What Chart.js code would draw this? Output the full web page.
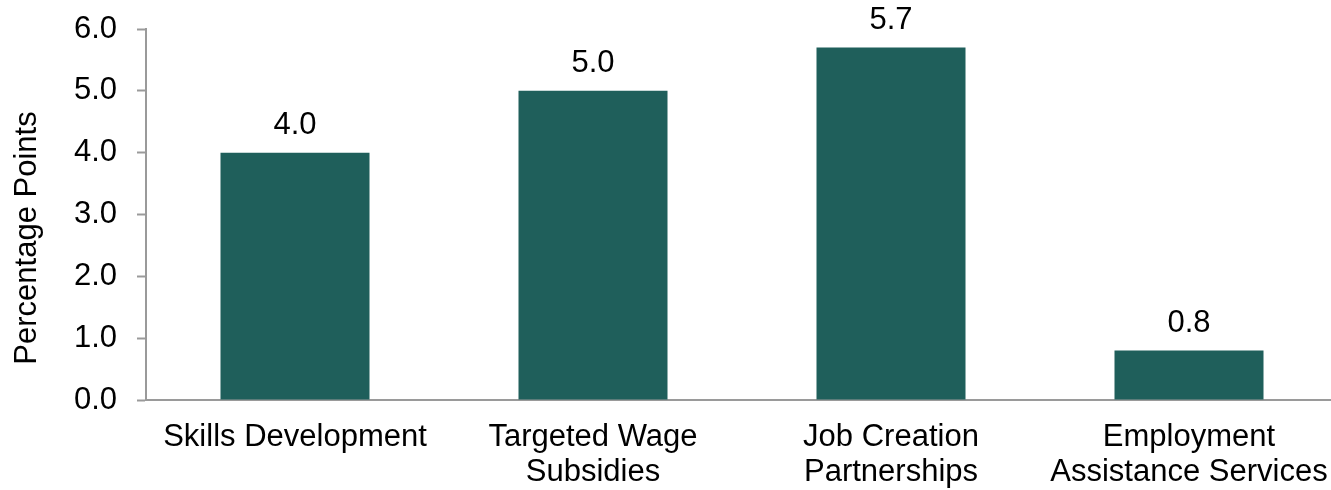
<!DOCTYPE html>
<html>
<head>
<meta charset="utf-8">
<script src="https://cdn.jsdelivr.net/npm/chart.js@4/dist/chart.umd.min.js"></script>
<style>
  html, body { margin: 0; padding: 0; background: #fff; overflow: hidden; }
  #wrap { position: relative; width: 1340px; height: 490px; }
</style>
</head>
<body>
<div id="wrap"><canvas id="c"></canvas></div>
<script>
const categories = [
  ["Skills Development"],
  ["Targeted Wage", "Subsidies"],
  ["Job Creation", "Partnerships"],
  ["Employment", "Assistance Services"]
];
const values = [4.0, 5.0, 5.7, 0.8];
const yTicks = [0, 1, 2, 3, 4, 5, 6];
const yTitle = "Percentage Points";

const FONT = "'Liberation Sans', Arial, sans-serif";
const FS = 31;
const AXIS = "#9a9a9a";

const valueLabels = {
  id: "valueLabels",
  afterDatasetsDraw(chart) {
    const ctx = chart.ctx;
    const meta = chart.getDatasetMeta(0);
    ctx.save();
    ctx.font = FS + "px " + FONT;
    ctx.fillStyle = "#000";
    ctx.textAlign = "center";
    ctx.textBaseline = "alphabetic";
    meta.data.forEach((bar, i) => {
      const p = bar.getProps(["x", "y"], true);
      ctx.fillText(values[i].toFixed(1), p.x, p.y - 19);
    });
    ctx.restore();
  }
};

const yAxisTitle = {
  id: "yAxisTitle",
  afterDraw(chart) {
    const ctx = chart.ctx;
    ctx.save();
    ctx.font = FS + "px " + FONT;
    ctx.fillStyle = "#000";
    ctx.textAlign = "center";
    ctx.textBaseline = "middle";
    ctx.translate(27, 238);
    ctx.rotate(-Math.PI / 2);
    ctx.fillText(yTitle, 0, 0);
    ctx.restore();
  }
};

new Chart(document.getElementById("c"), {
  type: "bar",
  data: {
    labels: categories,
    datasets: [{
      data: values,
      backgroundColor: "#1f5f5b",
      borderWidth: 0,
      categoryPercentage: 0.5,
      barPercentage: 1.0
    }]
  },
  options: {
    responsive: true,
    maintainAspectRatio: false,
    animation: false,
    layout: { padding: { top: 29, right: 2, left: 0, bottom: 0 } },
    plugins: { legend: { display: false }, tooltip: { enabled: false } },
    scales: {
      x: {
        afterFit(scale) { scale.height = 90; scale.paddingRight = 0; scale.paddingLeft = 0; },
        grid: { display: false, drawTicks: false },
        border: { display: true, color: AXIS, width: 2 },
        ticks: {
          color: "#000",
          font: { family: FONT, size: FS, lineHeight: 1.13 },
          padding: 19.5,
          maxRotation: 0,
          autoSkip: false
        }
      },
      y: {
        min: 0,
        max: 6,
        afterBuildTicks(scale) { scale.ticks = yTicks.map(v => ({ value: v })); },
        afterFit(scale) { scale.width = 146; scale.paddingTop = 0; scale.paddingBottom = 0; },
        grid: { drawOnChartArea: false, drawTicks: true, tickLength: 9, color: AXIS, tickWidth: 2 },
        border: { display: true, color: AXIS, width: 2 },
        ticks: {
          color: "#000",
          font: { family: FONT, size: FS },
          padding: 20,
          callback: v => Number(v).toFixed(1)
        },
        title: { display: false }
      }
    }
  },
  plugins: [valueLabels, yAxisTitle]
});
</script>
</body>
</html>
